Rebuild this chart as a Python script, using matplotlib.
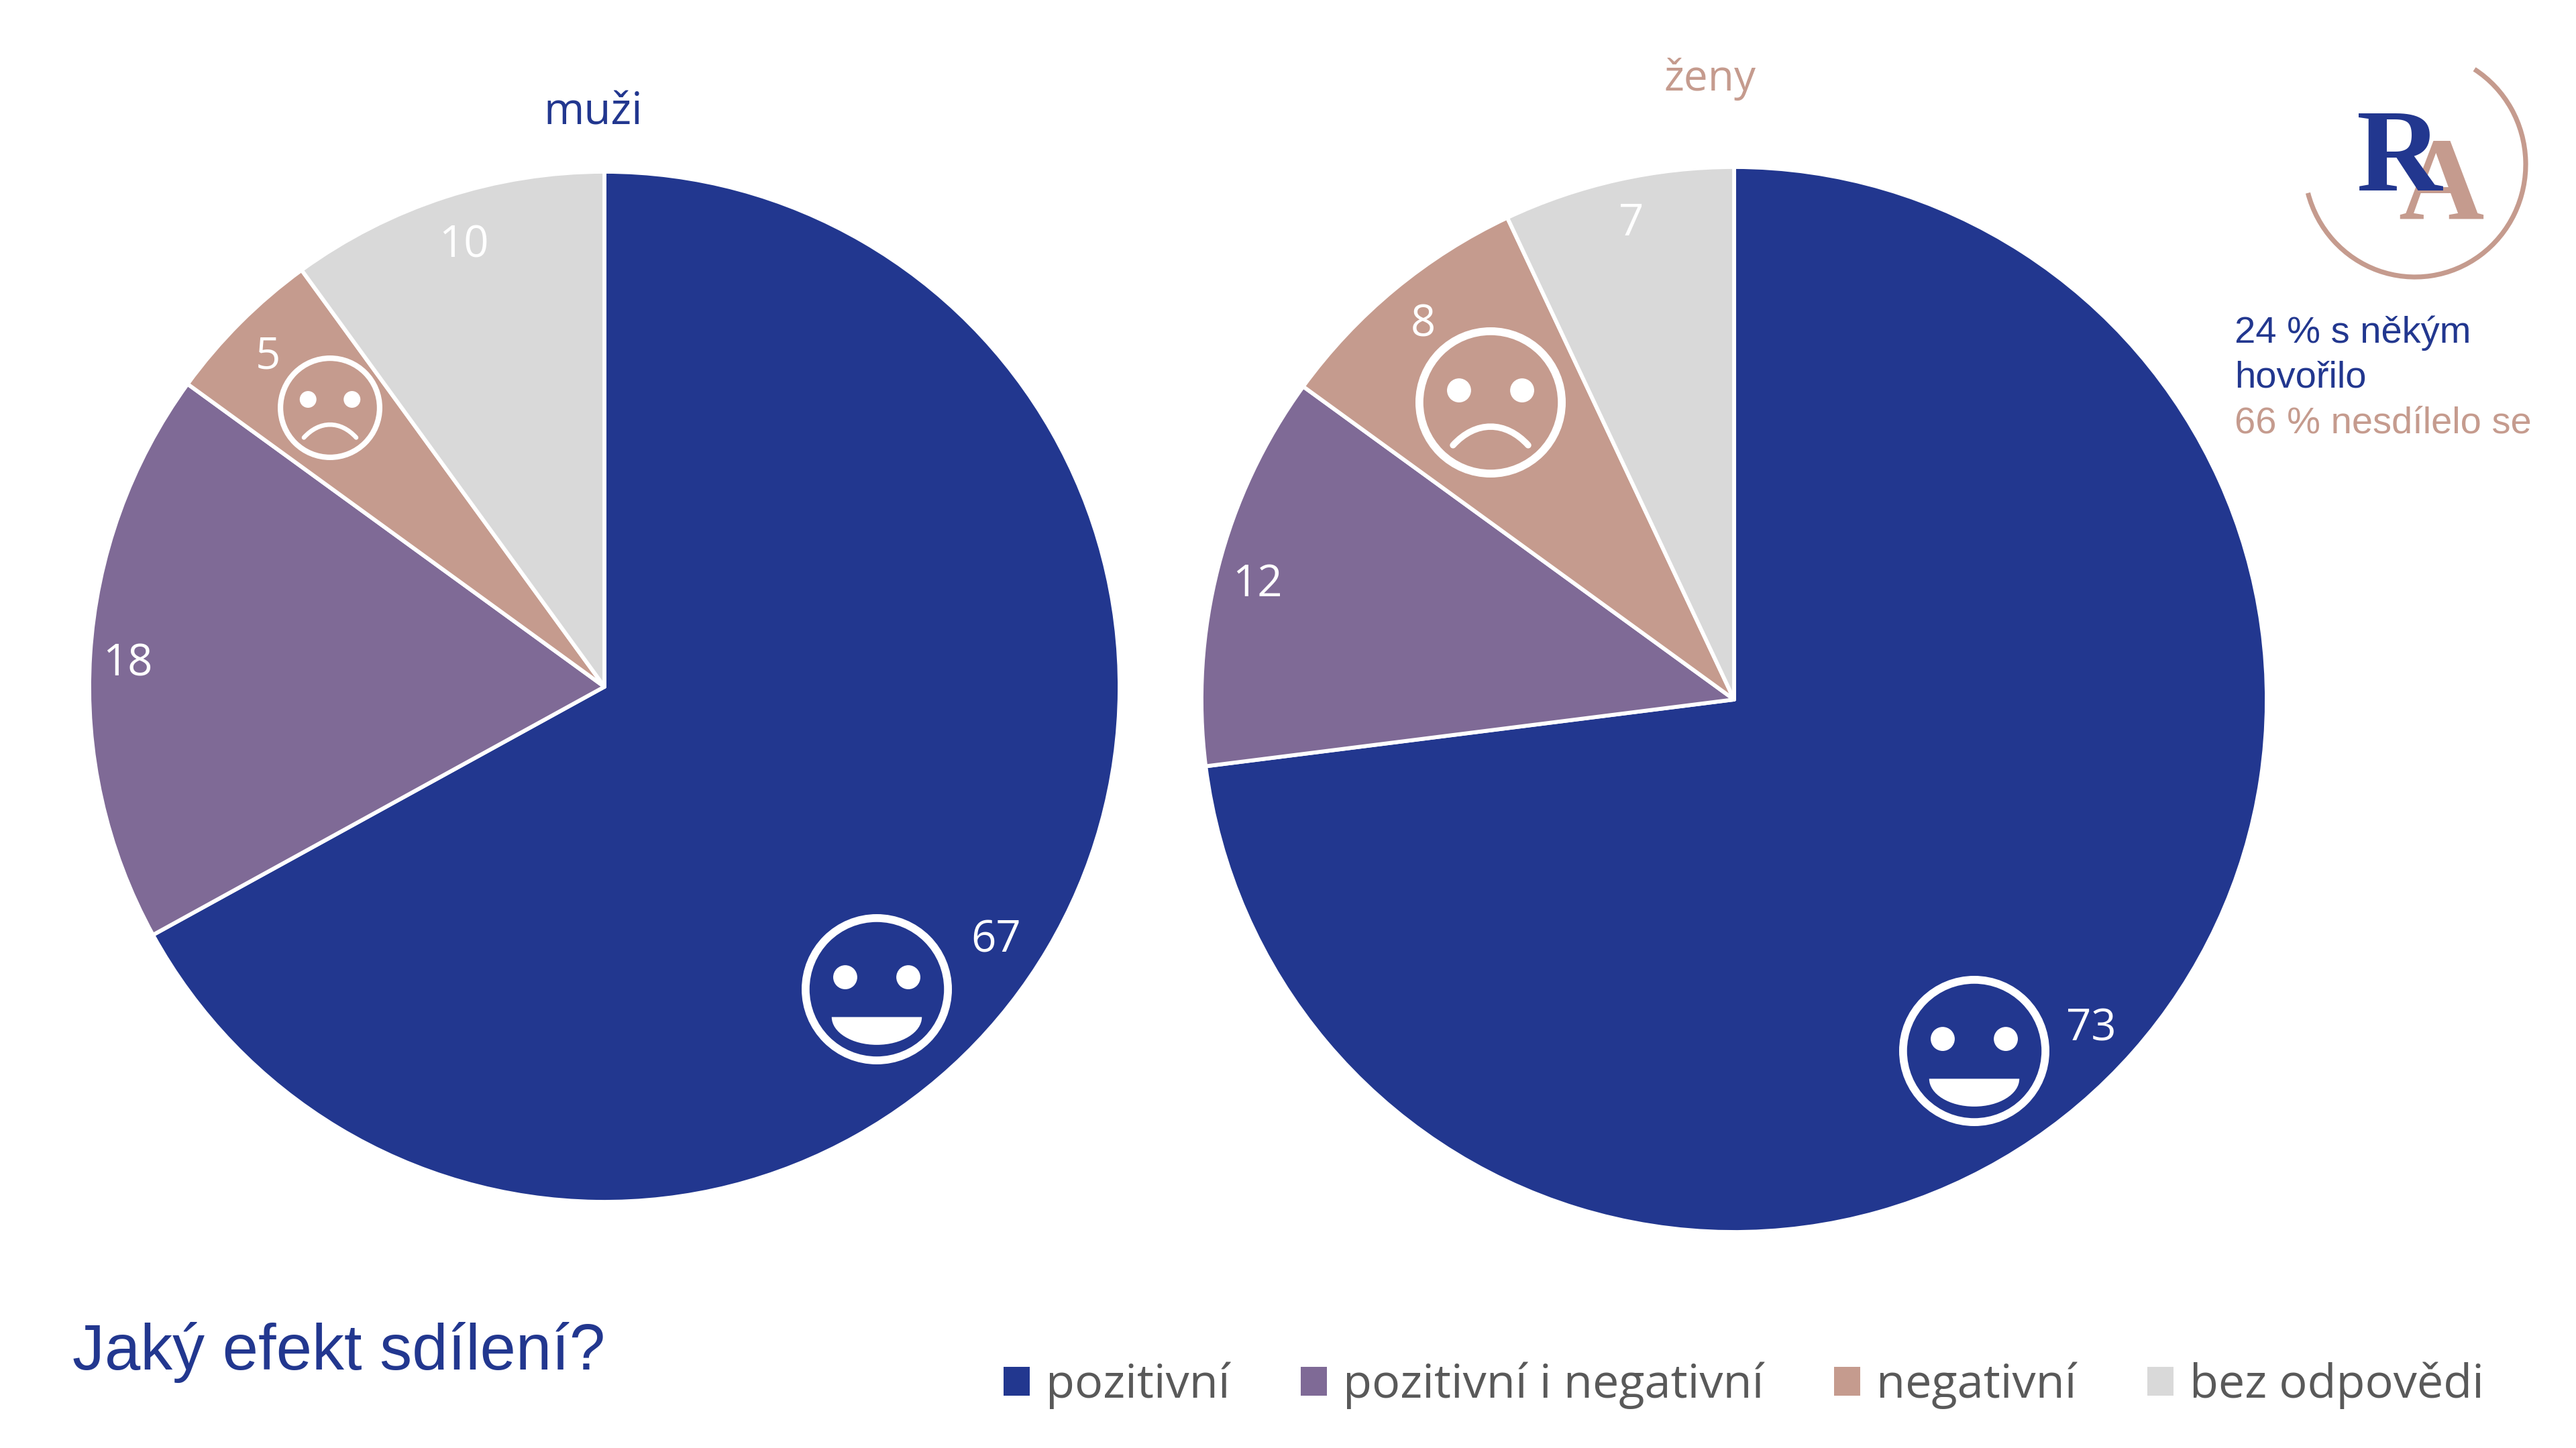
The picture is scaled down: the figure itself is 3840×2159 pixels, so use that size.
import matplotlib
matplotlib.use("Agg")
import matplotlib.pyplot as plt
from matplotlib.patches import Arc, Circle, PathPatch, Patch
from matplotlib.path import Path

# data
categories = ["pozitivní", "pozitivní i negativní", "negativní", "bez odpovědi"]
muzi_values = [67, 18, 5, 10]
zeny_values = [73, 12, 8, 7]
colors = ["#22378F", "#7F6A96", "#C59B8E", "#D9D9D9"]
side_lines = ["24 % s někým", "hovořilo", "66 % nesdílelo se"]

NAVY = colors[0]
PINK = colors[2]
W, H = 3840, 2159
SANS = "Open Sans"
ARIAL = "Liberation Sans"
SERIF = "Liberation Serif"

fig = plt.figure(figsize=(W / 100, H / 100), dpi=100, facecolor="white")


def draw_pie(values, cx, cy, r):
    ax = fig.add_axes([(cx - r) / W, 1 - (cy + r) / H, 2 * r / W, 2 * r / H])
    ax.pie(values, colors=colors, startangle=90, counterclock=False, radius=1,
           wedgeprops=dict(edgecolor="white", linewidth=4.2, joinstyle="round"))
    ax.set_xlim(-1, 1)
    ax.set_ylim(-1, 1)


draw_pie(muzi_values, 901, 1024, 768)
draw_pie(zeny_values, 2585, 1043, 794)

# overlay in pixel coordinates for the annotations
ov = fig.add_axes([0, 0, 1, 1], zorder=5)
ov.set_xlim(0, W)
ov.set_ylim(H, 0)
ov.axis("off")
ov.patch.set_alpha(0)


def face(cx, cy, R, happy=True):
    th = 0.105 * R
    ov.add_patch(Circle((cx, cy), R - th / 2, fill=False, ec="white", lw=th * 0.72))
    for sx in (-0.42, 0.42):
        ov.add_patch(Circle((cx + sx * R, cy - 0.16 * R), 0.16 * R, fc="white", ec="none"))
    if happy:
        a, b = 0.6 * R, 0.37 * R
        k = 0.5523
        x0, y0 = cx, cy + 0.37 * R
        verts = [(x0 - a, y0), (x0 - a, y0 + k * b), (x0 - k * a, y0 + b), (x0, y0 + b),
                 (x0 + k * a, y0 + b), (x0 + a, y0 + k * b), (x0 + a, y0), (x0 - a, y0)]
        codes = [Path.MOVETO] + [Path.CURVE4] * 6 + [Path.CLOSEPOLY]
        ov.add_patch(PathPatch(Path(verts, codes), fc="white", ec="none"))
    else:
        verts = [(cx - 0.5 * R, cy + 0.57 * R), (cx - 0.2 * R, cy + 0.24 * R),
                 (cx + 0.2 * R, cy + 0.24 * R), (cx + 0.5 * R, cy + 0.57 * R)]
        codes = [Path.MOVETO, Path.CURVE4, Path.CURVE4, Path.CURVE4]
        ov.add_patch(PathPatch(Path(verts, codes), fc="none", ec="white",
                               lw=0.085 * R * 0.72, capstyle="round"))


face(1307, 1475, 112, happy=True)
face(492, 608, 78, happy=False)
face(2943, 1567, 112, happy=True)
face(2222, 600, 112, happy=False)

# slice labels, same order as the values
muzi_pos = [(1485, 1403), (190, 990), (399, 532), (691, 367)]
zeny_pos = [(3117, 1534), (1874, 872), (2121, 485), (2432, 334)]
for vals, pos in ((muzi_values, muzi_pos), (zeny_values, zeny_pos)):
    for v, (x, y) in zip(vals, pos):
        ov.text(x, y, str(v), color="white", fontsize=47, family=SANS, ha="center", va="center")

ov.text(884, 169, "muži", color=NAVY, fontsize=47, family=SANS, ha="center", va="center")
ov.text(2549, 118, "ženy", color=PINK, fontsize=46, family=SANS, ha="center", va="center")

ov.text(108, 2016, "Jaký efekt sdílení?", color=NAVY, fontsize=69, family=ARIAL, ha="left", va="center")

# logo
ov.add_patch(Arc((3600, 245), 330, 336, theta1=-58, theta2=165, color=PINK, lw=5.2))
ov.text(3639, 325, "A", color=PINK, fontsize=127, family=SERIF, weight="bold", ha="center", va="baseline", zorder=3)
ov.text(3577, 284, "R", color=NAVY, fontsize=127, family=SERIF, weight="bold", ha="center", va="baseline", zorder=4)

line_cols = [NAVY, NAVY, PINK]
for line, col, base in zip(side_lines, line_cols, [511, 578, 645]):
    ov.text(3331, base, line, color=col, fontsize=40.4, family=ARIAL, ha="left", va="baseline")

FS = 50.6
px = FS * 100 / 72
handles = [Patch(facecolor=c, edgecolor="none") for c in colors]
fig.legend(handles, categories, ncol=4, loc="center left", bbox_to_anchor=(1496 / W, 1 - 2066 / H),
           frameon=False, prop=dict(family=SANS, size=FS), labelcolor="#595959",
           handlelength=39 / px, handleheight=39 / px, handletextpad=24 / px, columnspacing=105 / px,
           borderpad=0, borderaxespad=0)

fig.savefig("out.png", dpi=100)
